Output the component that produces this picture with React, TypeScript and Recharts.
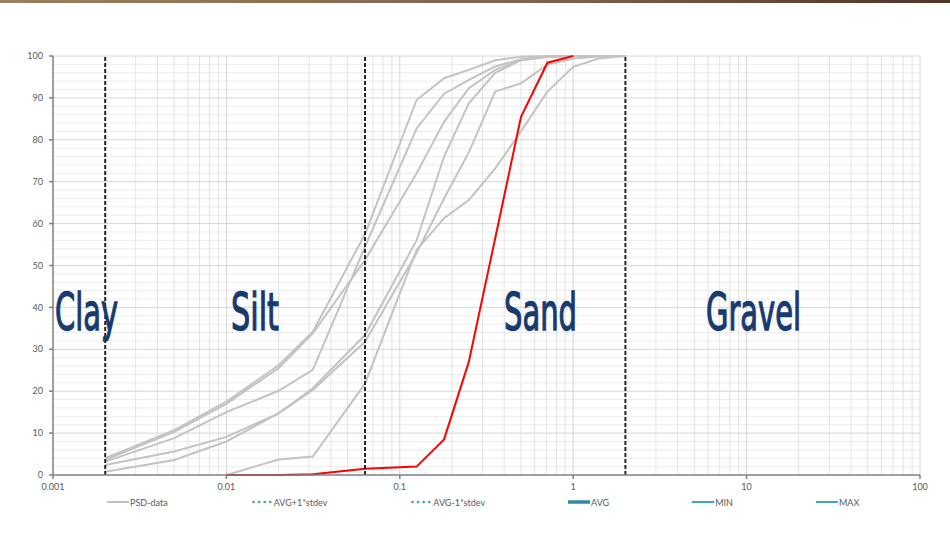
import React from 'react';
import { LineChart, Line, XAxis, YAxis, ReferenceLine, Legend } from 'recharts';

// sieve / hydrometer sizes in mm
const sizes = [0.002, 0.005, 0.01, 0.02, 0.0315, 0.063, 0.125, 0.18, 0.25, 0.355, 0.5, 0.71, 1, 1.4, 2];

// percent passing for each sample (null = not measured)
const psd1 = [4.0, 10.7, 17.5, 26.2, 34.2, 57.5, 89.5, 94.7, 96.7, 99.0, 99.8, 100, 100, 100, 100];
const psd2 = [3.6, 10.3, 17.0, 25.5, 33.8, 51.3, 72.0, 84.3, 92.3, 96.7, 99.0, 99.8, 100, 100, 100];
const psd3 = [3.2, 8.8, 15.0, 20.1, 25.1, 54.5, 82.7, 91.0, 94.3, 97.5, 99.2, 99.8, 100, 100, 100];
const psd4 = [2.4, 5.6, 9.1, 14.7, 20.7, 33.4, 56.0, 76.0, 88.7, 96.0, 99.0, 99.8, 100, 100, 100];
const psd5 = [0.8, 3.6, 8.0, 14.7, 20.3, 31.8, 53.0, 66.0, 77.0, 91.5, 93.5, 97.9, 99.4, 99.9, 100];
const psd6 = [null, null, 0, 3.7, 4.4, 21.8, 53.7, 61.3, 65.6, 73.2, 82.0, 91.5, 97.4, 99.4, 100];
const sample = [null, null, 0, 0, 0.2, 1.5, 2.0, 8.5, 27.0, 56.5, 85.5, 98.4, 100, null, null];

const psdKeys = ['psd1', 'psd2', 'psd3', 'psd4', 'psd5', 'psd6'];
const psdValues = [psd1, psd2, psd3, psd4, psd5, psd6];

const xTicks = [0.001, 0.01, 0.1, 1, 10, 100];
const yTicks = [0, 10, 20, 30, 40, 50, 60, 70, 80, 90, 100];

// Clay / Silt / Sand / Gravel boundaries
const boundaries = [0.002, 0.063, 2];
const zoneNames = ['Clay', 'Silt', 'Sand', 'Gravel'];

const legendItems = [
  { name: 'PSD-data', kind: 'solid', color: '#bfbfbf', width: 2 },
  { name: 'AVG+1*stdev', kind: 'dots', color: '#3b9cba', width: 2 },
  { name: 'AVG-1*stdev', kind: 'dots', color: '#3b9cba', width: 2 },
  { name: 'AVG', kind: 'solid', color: '#2f8aa3', width: 3.5 },
  { name: 'MIN', kind: 'solid', color: '#45a5c1', width: 2 },
  { name: 'MAX', kind: 'solid', color: '#45a5c1', width: 2 },
];

const data = sizes.map((size, i) => {
  const row: any = { size, sample: sample[i] };
  psdKeys.forEach((k, j) => {
    row[k] = psdValues[j][i];
  });
  return row;
});

// log grid: 2..9 inside every decade, plus the decades themselves
const minorX: number[] = [];
for (let d = 0.001; d < 100; d *= 10) {
  for (let m = 2; m <= 9; m++) minorX.push(+(d * m).toPrecision(3));
}
const minorY: number[] = [];
for (let v = 2; v < 100; v += 2) if (v % 10 !== 0) minorY.push(v);

const FONT = 'Lato, "Liberation Sans", sans-serif';

function LegendContent() {
  return (
    <div style={{ display: 'flex', alignItems: 'center', gap: 83, paddingLeft: 107, fontFamily: FONT, fontSize: 9, color: '#595959', height: 14 }}>
      {legendItems.map((it) => (
        <div key={it.name} style={{ display: 'flex', alignItems: 'center' }}>
          <svg width={22} height={8} style={{ marginRight: 1 }}>
            {it.kind === 'solid' ? (
              <line x1={0} y1={4} x2={22} y2={4} stroke={it.color} strokeWidth={it.width} />
            ) : (
              [0, 1, 2, 3].map((n) => <circle key={n} cx={2.5 + n * 5.6} cy={4} r={1.3} fill={it.color} />)
            )}
          </svg>
          <span>{it.name}</span>
        </div>
      ))}
    </div>
  );
}

export default function App() {
  return (
    <div style={{ position: 'absolute', left: 0, top: 0, width: 950, height: 543, background: '#fff', overflow: 'hidden' }}>
      <div style={{ position: 'absolute', left: 0, top: 0, width: 950, height: 3, background: 'linear-gradient(90deg, #9c7f62, #7d6049 60%, #4e3526)' }} />
      <LineChart width={950} height={543} data={data} margin={{ top: 56, right: 30, left: 23, bottom: 34 }}>
        {minorY.map((v) => (
          <ReferenceLine key={`hy${v}`} y={v} stroke="#ececec" strokeWidth={1} />
        ))}
        {minorX.map((v) => (
          <ReferenceLine key={`vx${v}`} x={v} stroke="#e3e3e3" strokeWidth={1} />
        ))}
        {yTicks.slice(1).map((v) => (
          <ReferenceLine key={`my${v}`} y={v} stroke="#d6d6d6" strokeWidth={1} />
        ))}
        {xTicks.slice(1).map((v) => (
          <ReferenceLine key={`mx${v}`} x={v} stroke="#d6d6d6" strokeWidth={1} />
        ))}
        <XAxis
          dataKey="size"
          type="number"
          scale="log"
          domain={[0.001, 100]}
          ticks={xTicks}
          allowDataOverflow
          height={20}
          tickSize={4}
          tickMargin={5}
          stroke="#7f7f7f"
          strokeWidth={1.5}
          tick={{ fill: '#595959', fontSize: 9, fontFamily: FONT }}
          tickFormatter={(v: number) => String(v)}
        />
        <YAxis
          type="number"
          domain={[0, 100]}
          ticks={yTicks}
          width={30}
          tickSize={4}
          tickMargin={6}
          stroke="#7f7f7f"
          strokeWidth={1.5}
          tick={{ fill: '#595959', fontSize: 9, fontFamily: FONT }}
        />
        {psdKeys.map((k) => (
          <Line key={k} dataKey={k} stroke="#c3c3c3" strokeWidth={2} dot={false} isAnimationActive={false} />
        ))}
        <Line dataKey="sample" stroke="#ff0000" strokeWidth={2} dot={false} isAnimationActive={false} />
        {boundaries.map((b) => (
          <ReferenceLine key={`b${b}`} x={b} stroke="#262626" strokeWidth={2} strokeDasharray="4 2" />
        ))}
        <Legend verticalAlign="bottom" content={() => <LegendContent />} wrapperStyle={{ left: 0, width: 950 }} />
      </LineChart>
      <svg width={950} height={543} style={{ position: 'absolute', left: 0, top: 0, pointerEvents: 'none' }}>
        {zoneNames.map((name, i) => {
          const spots = [
            { x: 55, w: 63 },
            { x: 231, w: 48 },
            { x: 504, w: 73 },
            { x: 706, w: 95 },
          ];
          return (
            <text
              key={name}
              x={spots[i].x}
              y={330}
              fontFamily='"Liberation Sans Narrow", "DejaVu Sans Condensed", sans-serif'
              fontSize={51}
              fill="#173a70"
              stroke="#173a70"
              strokeWidth={1.3}
              textLength={spots[i].w}
              lengthAdjust="spacingAndGlyphs"
            >
              {name}
            </text>
          );
        })}
      </svg>
    </div>
  );
}
